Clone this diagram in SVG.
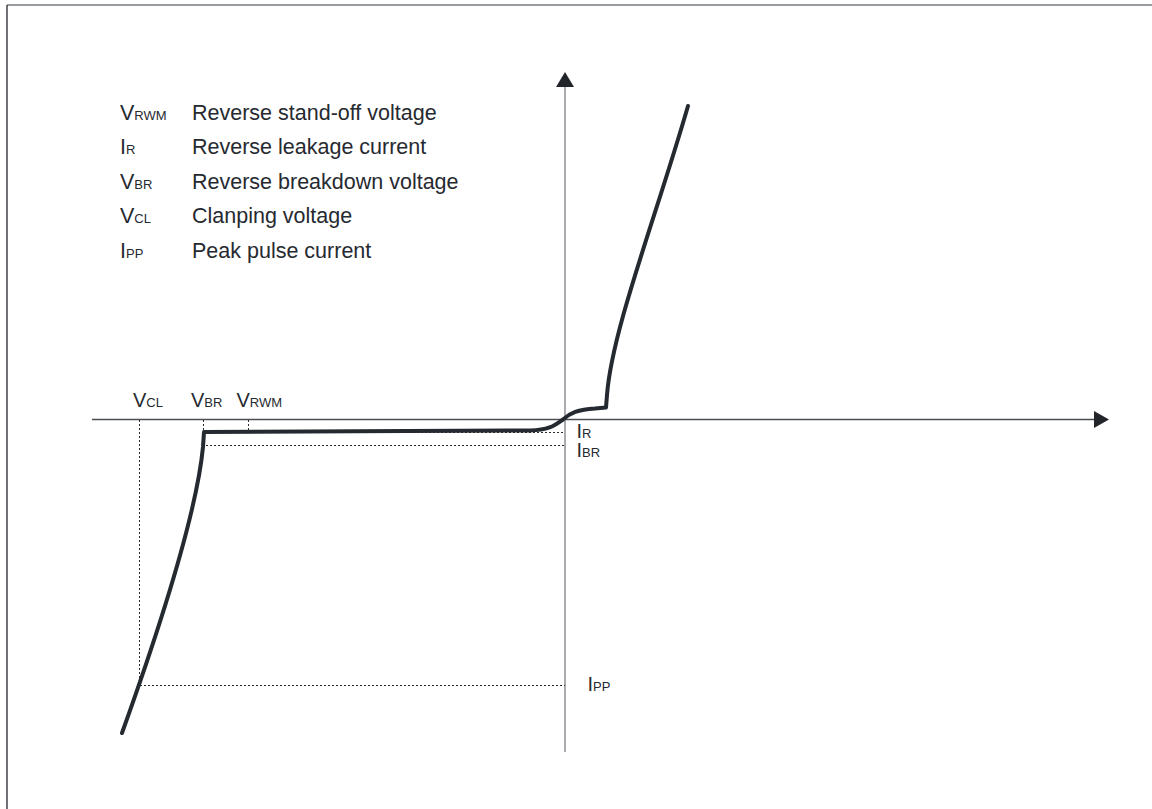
<svg xmlns="http://www.w3.org/2000/svg" width="1152" height="809" viewBox="0 0 1152 809">
  <style>
    .lbl { font-family: "Liberation Sans", Arial, sans-serif; fill: #262a30; }
    .big { font-size: 21.5px; }
    .ax { font-size: 20px; }
    .sub { font-size: 13px; }
    .dot { stroke: #2a2a2a; stroke-width: 1; stroke-dasharray: 2 2; fill: none; }
    .curve { stroke: #252a31; stroke-width: 4; fill: none; stroke-linecap: round; stroke-linejoin: round; }
  </style>
  <rect x="0" y="0" width="1152" height="809" fill="#ffffff"/>
  <g id="frame">
    <line x1="7" y1="5" x2="1152" y2="5" stroke="#777b80" stroke-width="1.3"/>
    <line x1="7" y1="5" x2="7" y2="809" stroke="#22262b" stroke-width="1.3"/>
  </g>
  <g id="axes">
    <line x1="92" y1="419.5" x2="1095" y2="419.5" stroke="#4a4d52" stroke-width="1.3"/>
    <polygon points="1094,411 1109,419.5 1094,428" fill="#22262b"/>
    <line x1="565" y1="86" x2="565" y2="752" stroke="#8c8f93" stroke-width="1.5"/>
    <polygon points="556,87 565,72 574,87" fill="#22262b"/>
  </g>
  <g id="connectors">
    <line class="dot" x1="139.5" y1="420" x2="139.5" y2="686"/>
    <line class="dot" x1="203.5" y1="420" x2="203.5" y2="432"/>
    <line class="dot" x1="248.5" y1="420" x2="248.5" y2="432"/>
    <line class="dot" x1="205" y1="432.5" x2="565" y2="432.5"/>
    <line class="dot" x1="206" y1="445.5" x2="565" y2="445.5"/>
    <line class="dot" x1="140" y1="685.5" x2="565" y2="685.5"/>
  </g>
  <g id="curve">
    <path class="curve" d="M122,733 C150,655 196,520 203,447 L204,432 L530,430.5 C550,430 555,425 563,419.5 C570,413 578,409.5 595,408.5 L606,407.5 L607,395 C612,330 655,220 688,106"/>
  </g>
  <g id="legend">
    <text class="lbl big" x="120" y="119.5">V<tspan class="sub">RWM</tspan></text>
    <text class="lbl big" x="192" y="119.5">Reverse stand-off voltage</text>
    <text class="lbl big" x="120" y="154">I<tspan class="sub">R</tspan></text>
    <text class="lbl big" x="192" y="154">Reverse leakage current</text>
    <text class="lbl big" x="120" y="188.5">V<tspan class="sub">BR</tspan></text>
    <text class="lbl big" x="192" y="188.5">Reverse breakdown voltage</text>
    <text class="lbl big" x="120" y="223">V<tspan class="sub">CL</tspan></text>
    <text class="lbl big" x="192" y="223">Clanping voltage</text>
    <text class="lbl big" x="120" y="257.5">I<tspan class="sub">PP</tspan></text>
    <text class="lbl big" x="192" y="257.5">Peak pulse current</text>
  </g>
  <g id="axis-labels">
    <text class="lbl ax" x="133" y="407">V<tspan class="sub">CL</tspan></text>
    <text class="lbl ax" x="191" y="407">V<tspan class="sub">BR</tspan></text>
    <text class="lbl ax" x="236.5" y="407">V<tspan class="sub">RWM</tspan></text>
    <text class="lbl ax" x="576.5" y="437.5">I<tspan class="sub">R</tspan></text>
    <text class="lbl ax" x="576.5" y="457">I<tspan class="sub">BR</tspan></text>
    <text class="lbl ax" x="587.5" y="691">I<tspan class="sub">PP</tspan></text>
  </g>
</svg>
